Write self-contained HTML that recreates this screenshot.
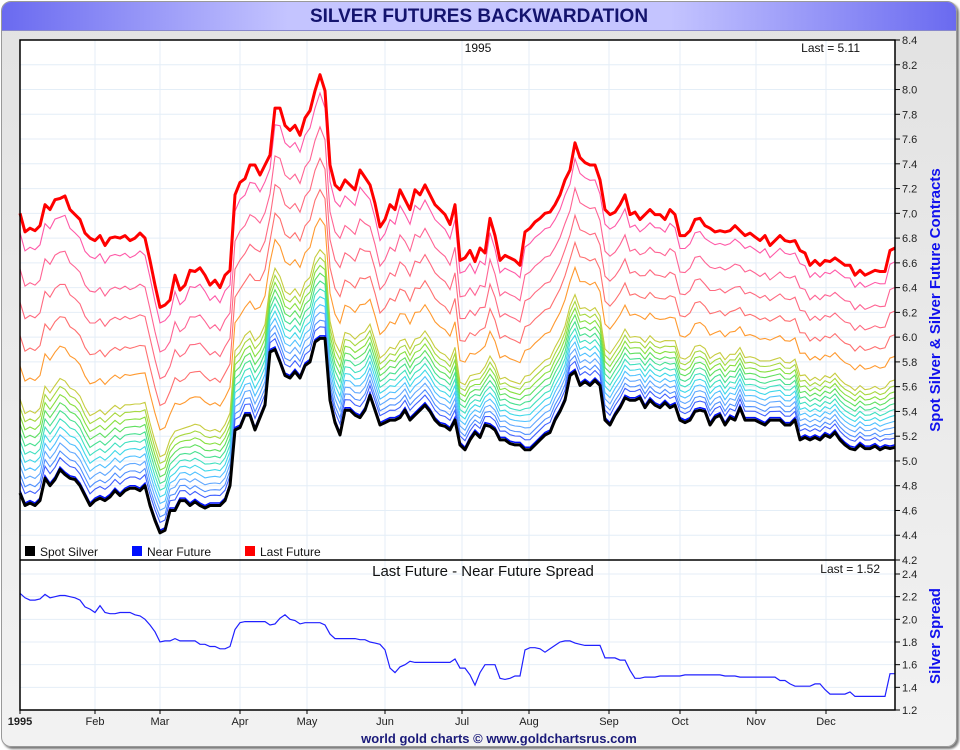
<!DOCTYPE html>
<html><head><meta charset="utf-8">
<style>
body{margin:0;width:960px;height:750px;overflow:hidden;background:#fff;font-family:"Liberation Sans",sans-serif;}
#frame{position:absolute;left:1px;top:1px;width:954px;height:744px;border:1px solid #999;border-radius:10px;background:linear-gradient(#e2e2e2,#f2f2f2);box-shadow:2px 2px 2px #777;overflow:hidden;}
#titlebar{position:absolute;left:0;top:0;width:954px;height:28px;background:linear-gradient(90deg,#6a6af0,#c4c4ff 30%,#c8c8ff 50%,#c4c4ff 70%,#6a6af0);border-bottom:1px solid #8888cc;text-align:center;font-weight:bold;font-size:19px;line-height:29px;color:#14146e;}
svg{position:absolute;left:0;top:0;}
</style></head>
<body>
<div id="frame">
<div id="titlebar">SILVER FUTURES BACKWARDATION</div>
</div>
<svg id="chart" width="960" height="750"></svg>
<script>
const spotVals=[4.74,4.64,4.66,4.64,4.68,4.86,4.80,4.85,4.93,4.89,4.86,4.85,4.80,4.72,4.64,4.68,4.70,4.68,4.71,4.76,4.72,4.76,4.78,4.78,4.76,4.80,4.64,4.52,4.42,4.44,4.60,4.60,4.68,4.68,4.64,4.67,4.64,4.62,4.64,4.64,4.64,4.68,4.80,5.25,5.27,5.37,5.37,5.25,5.35,5.45,5.88,5.90,5.80,5.69,5.67,5.72,5.67,5.77,5.80,5.96,5.99,5.99,5.49,5.31,5.21,5.41,5.41,5.37,5.35,5.41,5.53,5.41,5.29,5.31,5.33,5.33,5.35,5.41,5.33,5.37,5.41,5.45,5.40,5.33,5.29,5.28,5.25,5.33,5.13,5.09,5.17,5.23,5.19,5.29,5.28,5.25,5.17,5.17,5.14,5.13,5.13,5.09,5.09,5.13,5.17,5.21,5.23,5.33,5.40,5.49,5.69,5.72,5.61,5.64,5.61,5.65,5.61,5.33,5.29,5.37,5.43,5.51,5.49,5.49,5.51,5.43,5.49,5.45,5.43,5.47,5.43,5.45,5.33,5.31,5.33,5.40,5.41,5.40,5.29,5.35,5.37,5.29,5.35,5.33,5.43,5.33,5.33,5.33,5.31,5.29,5.33,5.33,5.33,5.29,5.29,5.33,5.17,5.19,5.17,5.19,5.17,5.21,5.19,5.23,5.17,5.13,5.10,5.09,5.13,5.10,5.10,5.12,5.09,5.11,5.10,5.11];
const lastVals=[7.00,6.85,6.88,6.86,6.90,7.07,7.03,7.11,7.12,7.14,7.03,6.99,6.95,6.84,6.80,6.78,6.82,6.74,6.80,6.81,6.80,6.82,6.78,6.80,6.84,6.80,6.62,6.42,6.24,6.26,6.30,6.50,6.38,6.42,6.54,6.53,6.56,6.50,6.42,6.46,6.40,6.50,6.54,7.15,7.25,7.28,7.39,7.39,7.31,7.39,7.47,7.85,7.85,7.71,7.67,7.71,7.63,7.77,7.83,7.99,8.12,7.99,7.39,7.23,7.19,7.27,7.23,7.19,7.35,7.29,7.23,7.08,6.89,6.95,7.07,7.03,7.19,7.11,7.03,7.19,7.15,7.23,7.15,7.07,7.03,6.99,6.91,7.07,6.62,6.64,6.70,6.61,6.72,6.68,6.96,6.82,6.62,6.66,6.64,6.62,6.58,6.85,6.88,6.93,6.96,7.00,7.01,7.07,7.15,7.27,7.35,7.57,7.45,7.41,7.39,7.39,7.27,7.03,6.99,7.01,7.07,7.15,6.99,7.01,6.95,6.99,7.03,6.99,6.99,6.95,7.03,6.99,6.82,6.82,6.86,6.95,6.96,6.90,6.88,6.85,6.86,6.85,6.86,6.90,6.86,6.82,6.84,6.81,6.78,6.82,6.74,6.78,6.82,6.78,6.77,6.78,6.70,6.68,6.58,6.62,6.58,6.62,6.61,6.64,6.61,6.58,6.58,6.50,6.54,6.50,6.52,6.54,6.53,6.53,6.70,6.72];
const spreadVals=[2.23,2.19,2.17,2.17,2.18,2.22,2.19,2.20,2.21,2.21,2.20,2.19,2.17,2.11,2.09,2.06,2.12,2.06,2.05,2.05,2.06,2.06,2.06,2.04,2.03,2.00,1.95,1.89,1.80,1.81,1.81,1.83,1.81,1.81,1.81,1.81,1.78,1.78,1.76,1.76,1.74,1.74,1.76,1.91,1.97,1.98,1.98,1.98,1.98,1.98,1.95,1.96,2.01,2.04,2.00,1.99,1.96,1.97,1.97,1.97,1.97,1.95,1.87,1.83,1.83,1.83,1.83,1.83,1.82,1.82,1.80,1.79,1.78,1.73,1.57,1.53,1.58,1.60,1.63,1.62,1.62,1.62,1.62,1.62,1.62,1.62,1.62,1.65,1.57,1.57,1.51,1.42,1.53,1.60,1.60,1.60,1.48,1.47,1.48,1.50,1.50,1.73,1.75,1.75,1.74,1.71,1.74,1.77,1.80,1.81,1.81,1.79,1.78,1.77,1.77,1.77,1.77,1.66,1.66,1.66,1.64,1.64,1.55,1.48,1.48,1.49,1.49,1.49,1.50,1.50,1.50,1.50,1.50,1.51,1.51,1.51,1.51,1.51,1.51,1.51,1.51,1.50,1.50,1.50,1.49,1.49,1.49,1.49,1.49,1.49,1.49,1.49,1.46,1.46,1.43,1.41,1.41,1.41,1.41,1.43,1.43,1.38,1.34,1.34,1.34,1.34,1.36,1.32,1.32,1.32,1.32,1.32,1.32,1.32,1.52,1.52];
const nearBasis=[0.02];
const contractFrac=[0.93,0.80,0.68,0.56,0.45,0.33,0.30,0.27,0.24,0.21,0.18,0.15,0.12,0.09,0.06,0.035];
const contractColors=['#ff5aa8','#ff6494','#ff6a80','#ff7070','#ff9a30','#c8cc40','#a8d840','#88e040','#60e060','#48e090','#40e0c0','#40d8e8','#50c0ff','#60a8ff','#5090ff','#4060ff'];
const monthLabels=['1995','Feb','Mar','Apr','May','Jun','Jul','Aug','Sep','Oct','Nov','Dec'];
const monthIdx=[0,15,28,44,57.4,73,88.4,101.8,117.8,132,147.2,161.2];
const topTicks=[8.4,8.2,8.0,7.8,7.6,7.4,7.2,7.0,6.8,6.6,6.4,6.2,6.0,5.8,5.6,5.4,5.2,5.0,4.8,4.6,4.4,4.2];
const botTicks=[2.4,2.2,2.0,1.8,1.6,1.4,1.2];

const NS='http://www.w3.org/2000/svg';
const svg=document.getElementById('chart');
const L=20,R=895,T=40,MID=560,B=710;
const N=spotVals.length;
const x=i=>L+i*(R-L)/(N-1);
const yTop=v=>T+(8.4-v)/(8.4-4.2)*(MID-T);
const yBot=v=>574+(2.4-v)/(2.4-1.2)*(B-574);
function el(tag,attrs,parent){const e=document.createElementNS(NS,tag);for(const k in attrs)e.setAttribute(k,attrs[k]);(parent||svg).appendChild(e);return e;}
el('rect',{x:L,y:T,width:R-L,height:B-T,fill:'#fff'});
const grid=el('g',{stroke:'#e4eef7','stroke-width':1});


monthIdx.forEach((m,i)=>{if(i>0)el('line',{x1:x(m),x2:x(m),y1:T,y2:B},grid);});
topTicks.forEach(v=>el('line',{x1:L,x2:R,y1:yTop(v),y2:yTop(v)},grid));
botTicks.forEach(v=>el('line',{x1:L,x2:R,y1:yBot(v),y2:yBot(v)},grid));
function pathFrom(vals,yf){return vals.map((v,i)=>(i?'L':'M')+x(i).toFixed(1)+','+yf(v).toFixed(1)).join('');}
const nearVals=spotVals.map(v=>v+nearBasis[0]);
contractFrac.forEach((f,k)=>{
  const vals=nearVals.map((n,i)=>n+f*(lastVals[i]-n));
  const p=el('path',{d:pathFrom(vals,yTop),fill:'none',stroke:contractColors[k],'stroke-width':1.1});
  
  
});
const nearP=el('path',{d:pathFrom(nearVals,yTop),fill:'none',stroke:'#0010ff','stroke-width':1.5});


const spotP=el('path',{d:pathFrom(spotVals,yTop),fill:'none',stroke:'#000','stroke-width':3,'stroke-linejoin':'round'});


const lastP=el('path',{d:pathFrom(lastVals,yTop),fill:'none',stroke:'#ff0000','stroke-width':3,'stroke-linejoin':'round'});


const spP=el('path',{d:pathFrom(spreadVals,yBot),fill:'none',stroke:'#2020ff','stroke-width':1.2});


el('rect',{x:L,y:T,width:R-L,height:B-T,fill:'none',stroke:'#000','stroke-width':1.5});
el('line',{x1:L,x2:R,y1:MID,y2:MID,stroke:'#000','stroke-width':1.5});
function txt(s,attrs,name){const t=el('text',Object.assign({'font-family':'Liberation Sans, sans-serif'},attrs));t.textContent=s;return t;}
topTicks.forEach(v=>{el('line',{x1:R,x2:R+5,y1:yTop(v),y2:yTop(v),stroke:'#000'});txt(v.toFixed(1),{x:R+7,y:yTop(v)+4,'font-size':11,fill:'#222'},'y-tick-label');});
botTicks.forEach(v=>{el('line',{x1:R,x2:R+5,y1:yBot(v),y2:yBot(v),stroke:'#000'});txt(v.toFixed(1),{x:R+7,y:yBot(v)+4,'font-size':11,fill:'#222'},'spread-tick-label');});
monthLabels.forEach((m,i)=>{const xx=x(monthIdx[i]);el('line',{x1:xx,x2:xx,y1:B,y2:B+4,stroke:'#000'});txt(m,{x:i?xx:L,y:B+15,'font-size':11,'text-anchor':i?'middle':'middle','font-weight':i?'normal':'bold',fill:'#222'},'x-tick-label');});
txt('1995',{x:478,y:52,'font-size':12,'text-anchor':'middle',fill:'#111'},'panel-year');
txt('Last = 5.11',{x:860,y:52,'font-size':12,'text-anchor':'end',fill:'#111'},'last-value-label');
txt('Last Future - Near Future Spread',{x:483,y:576,'font-size':15,'text-anchor':'middle',fill:'#111'},'spread-panel-title');
txt('Last = 1.52',{x:880,y:573,'font-size':12,'text-anchor':'end',fill:'#111'},'spread-last-label');
const leg=[['#000','Spot Silver',25],['#0010ff','Near Future',132],['#ff0000','Last Future',245]];
leg.forEach(l=>{const r=el('rect',{x:l[2],y:546,width:10,height:10,fill:l[0]});txt(l[1],{x:l[2]+15,y:556,'font-size':12,fill:'#111'},'legend-entry');});
txt('Spot Silver & Silver Future Contracts',{x:0,y:0,'font-size':15,'font-weight':'bold',fill:'#1010ee','text-anchor':'middle',transform:'translate(940,300) rotate(-90)'},'y-axis-title');
txt('Silver Spread',{x:0,y:0,'font-size':15,'font-weight':'bold',fill:'#1010ee','text-anchor':'middle',transform:'translate(940,636) rotate(-90)'},'spread-axis-title');
txt('world gold charts © www.goldchartsrus.com',{x:499,y:743,'font-size':13,'font-weight':'bold',fill:'#1a1a7a','text-anchor':'middle'},'footer-credit');
</script>
</body></html>
